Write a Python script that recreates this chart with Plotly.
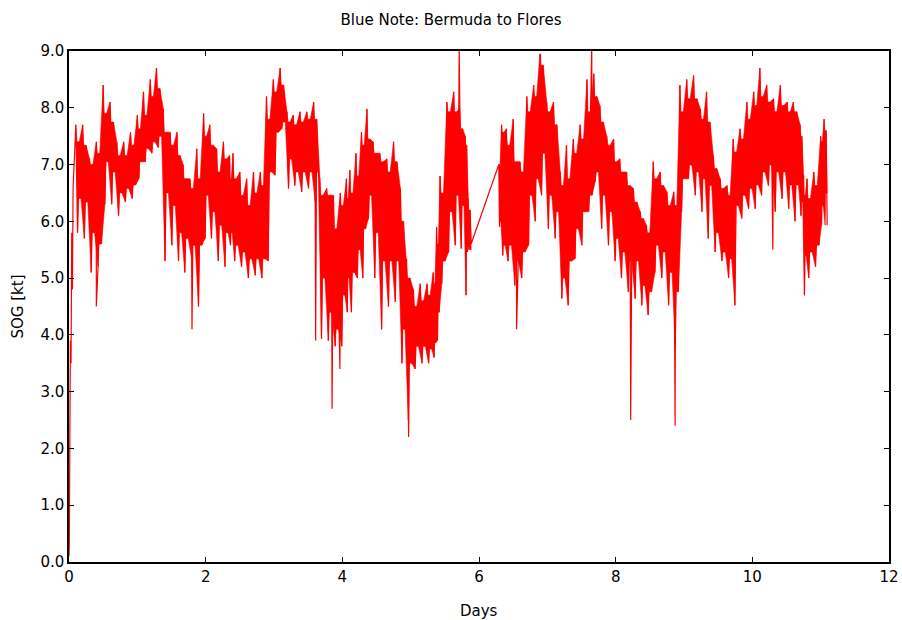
import plotly.graph_objects as go

# ---- data (days, SOG in kt) ----
ramp_days = [0.0, 0.005, 0.012, 0.02, 0.03, 0.04, 0.05, 0.06]
ramp_sog = [0.1, 0.3, 2.1, 3.9, 3.5, 5.8, 4.8, 6.6]

# grid of readings: time, dense-core upper/lower, spike upper/lower
days = [0.10, 0.20, 0.30, 0.40, 0.50, 0.60, 0.70, 0.80, 0.90, 1.00,
        1.09, 1.19, 1.28, 1.38, 1.48, 1.58, 1.67, 1.77, 1.87, 1.97,
        2.06, 2.16, 2.26, 2.35, 2.40, 2.50, 2.60, 2.70, 2.80, 2.89,
        2.99, 3.09, 3.19, 3.28, 3.38, 3.48, 3.58, 3.67, 3.77, 3.87,
        3.97, 4.06, 4.11, 4.20, 4.28, 4.36, 4.45, 4.55, 4.65, 4.75,
        4.85, 4.94, 5.04, 5.14, 5.24, 5.33, 5.38, 5.43, 5.53, 5.63,
        5.72, 5.80, 5.84,
        6.29, 6.33, 6.40, 6.50, 6.60, 6.70, 6.80, 6.89, 6.99, 7.09,
        7.19, 7.28, 7.38, 7.48, 7.58, 7.68, 7.77, 7.87, 7.97, 8.06,
        8.16, 8.26, 8.36, 8.45, 8.55, 8.65, 8.75, 8.85, 8.94, 9.04,
        9.14, 9.24, 9.33, 9.43, 9.53, 9.63, 9.72, 9.82, 9.92, 10.02,
        10.11, 10.21, 10.31, 10.41, 10.51, 10.60, 10.70, 10.75, 10.80, 10.90,
        11.00, 11.05]
core_hi = [7.4, 7.34, 7.0, 7.2, 7.9, 7.75, 7.16, 7.16, 7.34, 7.63,
           7.87, 8.2, 8.34, 7.57, 7.34, 7.16, 6.75, 6.58, 6.75, 7.5,
           7.34, 6.87, 7.1, 6.75, 6.75, 6.46, 6.28, 6.5, 6.63, 7.8,
           8.28, 8.4, 7.75, 7.7, 7.75, 7.8, 7.8, 6.46, 6.46, 5.87,
           6.28, 6.4, 6.5, 6.8, 7.34, 7.45, 7.2, 7.05, 6.87, 7.05,
           6.0, 5.0, 4.5, 4.6, 4.7, 4.9, 5.6, 6.5, 7.93, 7.93,
           7.63, 7.34, 6.2,
           7.0, 7.57, 7.34, 7.05, 6.87, 7.93, 8.2, 8.75, 7.93, 7.7,
           6.63, 6.75, 7.2, 7.45, 7.93, 8.2, 7.75, 7.34, 7.05, 6.87,
           6.63, 6.34, 6.05, 5.8, 6.75, 6.63, 6.28, 6.28, 7.93, 8.16,
           8.16, 7.8, 7.75, 6.93, 6.58, 6.46, 7.22, 7.45, 7.8, 8.04,
           8.2, 8.1, 7.93, 8.04, 7.93, 7.93, 7.5, 6.46, 6.4, 6.63,
           7.4, 7.6]
core_lo = [6.4, 6.34, 5.8, 5.6, 7.05, 6.87, 6.5, 6.58, 6.64, 7.05,
           7.28, 7.4, 7.5, 6.5, 6.28, 5.8, 5.7, 5.58, 5.58, 6.46,
           6.17, 5.93, 5.8, 5.8, 5.58, 5.46, 5.34, 5.34, 5.34, 6.87,
           7.57, 7.75, 7.1, 6.87, 6.87, 6.87, 6.87, 5.0, 4.4, 4.1,
           4.7, 5.0, 5.1, 5.5, 5.87, 6.46, 5.8, 5.3, 5.3, 5.3,
           4.1, 3.5, 3.8, 3.8, 3.75, 3.86, 4.4, 5.3, 6.17, 6.46,
           6.28, 5.46, 5.5,
           6.0, 5.58, 5.58, 5.3, 5.46, 6.46, 6.75, 7.2, 6.46, 6.17,
           5.0, 5.3, 5.87, 6.17, 6.46, 6.87, 6.46, 6.17, 5.7, 5.46,
           5.3, 5.3, 4.87, 4.76, 5.58, 5.46, 5.1, 4.76, 6.75, 6.99,
           6.87, 6.75, 6.63, 5.8, 5.46, 5.34, 6.28, 6.46, 6.58, 6.64,
           6.87, 6.99, 6.87, 6.87, 6.64, 6.64, 6.34, 5.4, 5.46, 5.58,
           6.28, 6.5]
spike_hi = [7.7, 7.7, 7.1, 7.4, 8.4, 8.1, 7.4, 7.4, 7.57, 7.87,
            8.28, 8.5, 8.7, 7.98, 7.57, 7.57, 7.0, 6.75, 7.28, 7.9,
            7.7, 7.28, 7.4, 7.16, 7.2, 6.87, 6.75, 6.87, 6.87, 8.2,
            8.5, 8.7, 7.93, 7.87, 7.93, 7.93, 8.1, 6.75, 6.58, 6.46,
            6.5, 6.75, 6.9, 7.2, 7.57, 7.98, 7.4, 7.2, 7.1, 7.4,
            6.58, 5.34, 4.8, 4.9, 4.9, 5.1, 5.9, 6.8, 8.1, 8.28,
            8.0, 7.5, 6.4,
            7.0, 7.7, 7.63, 7.8, 7.05, 8.2, 8.4, 8.95, 8.1, 8.1,
            6.87, 7.34, 7.45, 7.7, 8.5, 8.6, 8.04, 7.5, 7.45, 7.1,
            6.87, 6.58, 6.17, 5.93, 7.05, 6.87, 6.52, 6.52, 8.4, 8.5,
            8.57, 7.98, 8.28, 7.16, 6.75, 6.63, 7.45, 7.63, 8.1, 8.28,
            8.7, 8.4, 8.16, 8.4, 8.1, 8.1, 7.7, 6.81, 6.75, 6.87,
            7.5, 7.8]
spike_lo = [5.8, 5.7, 5.1, 5.2, 6.3, 6.3, 6.1, 6.34, 6.4, 6.75,
            7.05, 7.2, 7.3, 5.3, 5.58, 5.3, 5.1, 5.34, 4.5, 5.7,
            5.7, 5.3, 5.2, 5.58, 5.3, 5.2, 5.0, 5.05, 5.0, 5.3,
            6.81, 7.63, 6.58, 6.63, 6.52, 6.58, 6.34, 3.93, 3.9, 3.8,
            3.8, 4.4, 4.4, 5.0, 5.0, 6.05, 5.0, 4.1, 4.5, 4.58,
            3.5, 2.5, 3.4, 3.5, 3.5, 3.6, 3.9, 4.9, 5.46, 5.58,
            5.52, 4.7, 5.6,
            5.9, 5.4, 5.3, 4.87, 5.0, 5.58, 6.0, 6.46, 5.87, 5.7,
            4.64, 4.52, 5.34, 5.58, 6.17, 6.7, 5.87, 5.58, 5.3, 5.0,
            4.76, 4.64, 4.52, 4.35, 5.1, 5.0, 4.52, 3.82, 6.17, 6.75,
            6.46, 6.17, 5.7, 5.46, 5.3, 5.0, 4.52, 6.05, 6.22, 6.22,
            6.46, 6.63, 6.17, 6.4, 6.22, 6.0, 6.1, 4.7, 5.0, 5.2,
            5.93, 5.93]

# isolated extreme readings (needles)
extreme_days = [0.40, 1.80, 3.61, 3.85, 3.965, 4.97, 5.71, 6.55, 6.90, 7.65, 8.22, 8.87, 10.30]
extreme_sog = [4.5, 4.1, 3.9, 2.7, 3.4, 2.2, 9.1, 4.1, 8.95, 9.1, 2.5, 2.4, 5.5]

gap_start = 63  # index of first reading after the data gap

RED = "#ff0000"
fig = go.Figure()


def offsets(i):
    last = (i + 1 == len(days)) or (i + 1 == gap_start)
    step = 0.06 if last else (days[i + 1] - days[i])
    return step / 4, last


# dense core: envelope of the sampled line, with ragged top and bottom edges
for a, b in [(0, gap_start), (gap_start, len(days))]:
    top, bot = [], []
    for i in range(a, b):
        t = days[i]
        q, _ = offsets(i)
        top += [(t, spike_hi[i]), (t + 0.6 * q, core_hi[i]), (t + 2 * q, core_hi[i])]
        bot += [(t + q, spike_lo[i]), (t + 1.6 * q, core_lo[i]), (t + 3 * q, core_lo[i])]
    poly = top + bot[::-1]
    fig.add_trace(go.Scatter(
        x=[p[0] for p in poly], y=[p[1] for p in poly],
        fill="toself", fillcolor=RED, mode="lines",
        line=dict(width=0.6, color=RED), hoverinfo="skip", showlegend=False))

# the sampled line itself, visiting the readings in time order
pts = list(zip(ramp_days, ramp_sog))
for i, t in enumerate(days):
    q, last = offsets(i)
    if last:
        pts += [(t, spike_hi[i]), (t + q, core_lo[i]), (t + 2 * q, core_hi[i]),
                (t + 3 * q, spike_lo[i])]
    else:
        pts += [(t, spike_hi[i]), (t + q, spike_lo[i]), (t + 2 * q, core_hi[i]),
                (t + 3 * q, core_lo[i])]
pts += list(zip(extreme_days, extreme_sog))
pts.sort(key=lambda p: p[0])

fig.add_trace(go.Scatter(
    x=[p[0] for p in pts], y=[p[1] for p in pts],
    mode="lines", line=dict(color=RED, width=1.2), showlegend=False))

FONT = "DejaVu Sans"
FS = 15
axis_common = dict(
    showline=True, linecolor="black", linewidth=1.5, mirror="ticks",
    ticks="inside", ticklen=5, tickcolor="black", tickwidth=1,
    showgrid=False, zeroline=False, automargin=False,
    tickfont=dict(family=FONT, size=FS, color="black"))

W, H = 902, 620
fig.update_layout(
    width=W, height=H, autosize=False,
    margin=dict(l=69, r=13, t=51, b=58),
    paper_bgcolor="white", plot_bgcolor="white",
    title=dict(text="Blue Note: Bermuda to Flores", x=0.5, xanchor="center",
               y=1 - 20 / H, yanchor="middle", yref="container",
               font=dict(family=FONT, size=FS, color="black")),
    xaxis=dict(range=[0, 12], dtick=2, tick0=0, **axis_common),
    yaxis=dict(range=[0, 9], dtick=1, tick0=0, tickformat=".1f", **axis_common),
)
fig.add_annotation(text="Days", xref="paper", yref="paper", x=0.5, y=0,
                   yshift=-49, showarrow=False, yanchor="middle",
                   font=dict(family=FONT, size=FS, color="black"))
fig.add_annotation(text="SOG [kt]", xref="paper", yref="paper", x=0, y=0.5,
                   xshift=-52, textangle=-90, showarrow=False, xanchor="center",
                   font=dict(family=FONT, size=FS, color="black"))

# remove the browser's default page margin so the 902x620 figure fills the window
fig.write_html("out.html", config={"responsive": False, "displayModeBar": False},
               post_script="document.body.style.margin='0';"
                           "document.body.style.overflow='hidden';")
